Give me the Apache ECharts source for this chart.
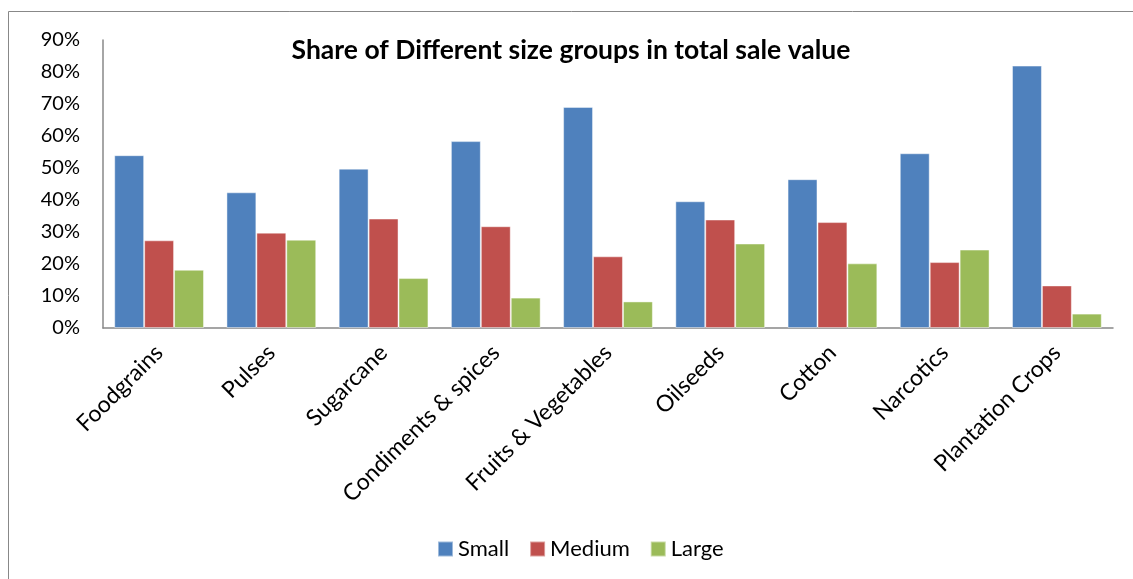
<!DOCTYPE html>
<html>
<head>
<meta charset="utf-8">
<script src="https://cdn.jsdelivr.net/npm/echarts@6/dist/echarts.min.js"></script>
<style>
  html, body { margin: 0; padding: 0; background: #fff; }
  #chart { width: 1133px; height: 579px; }
</style>
</head>
<body>
<div id="chart"></div>
<script>
const categories = ["Foodgrains", "Pulses", "Sugarcane", "Condiments & spices", "Fruits & Vegetables",
  "Oilseeds", "Cotton", "Narcotics", "Plantation Crops"];
const small = [54.0, 42.4, 49.8, 58.4, 69.1, 39.6, 46.5, 54.6, 82.0];
const medium = [27.4, 29.8, 34.2, 31.8, 22.4, 33.9, 33.1, 20.6, 13.3];
const large = [18.2, 27.6, 15.6, 9.5, 8.3, 26.4, 20.2, 24.5, 4.5];
const yTicks = [0, 10, 20, 30, 40, 50, 60, 70, 80, 90];

const chart = echarts.init(document.getElementById("chart"));
const font = "Lato, 'Open Sans', sans-serif";

const barSeries = (name, data, color) => ({
  name: name,
  type: "bar",
  data: data,
  barGap: "0%",
  barCategoryGap: "20%",
  itemStyle: { color: color, borderColor: "rgba(255,255,255,0.45)", borderWidth: 1 },
});

chart.setOption({
  animation: false,
  textStyle: { fontFamily: font },
  title: {
    text: "Share of Different size groups in total sale value",
    left: 566,
    textAlign: "center",
    top: 32,
    textStyle: { fontFamily: font, fontSize: 26.5, fontWeight: "bold", color: "#000" },
  },
  graphic: [{
    type: "rect",
    shape: { x: 8.5, y: 11.5, width: 1140, height: 590 },
    style: { fill: "none", stroke: "#888", lineWidth: 1 },
    silent: true,
  }],
  legend: {
    data: ["Small", "Medium", "Large"],
    left: 437,
    top: 538,
    padding: 0,
    itemWidth: 15,
    itemHeight: 15,
    itemGap: 20,
    icon: "rect",
    textStyle: { fontFamily: font, fontSize: 22, color: "#000" },
  },
  grid: { left: 103, right: 20, top: 40, bottom: 251 },
  xAxis: {
    type: "category",
    data: categories,
    axisLine: { lineStyle: { color: "#888", width: 1.5 } },
    axisTick: { show: false },
    axisLabel: { rotate: 45, margin: 21, fontSize: 23, color: "#000", fontFamily: font, interval: 0 },
  },
  yAxis: {
    type: "value",
    min: yTicks[0],
    max: yTicks[yTicks.length - 1],
    interval: 10,
    axisLine: { show: true, lineStyle: { color: "#888", width: 1.5 } },
    axisTick: { show: false },
    splitLine: { show: false },
    axisLabel: { formatter: "{value}%", fontSize: 20, color: "#000", fontFamily: font, margin: 23 },
  },
  series: [
    barSeries("Small", small, "#4F81BD"),
    barSeries("Medium", medium, "#C0504D"),
    barSeries("Large", large, "#9BBB59"),
  ],
});
</script>
</body>
</html>
